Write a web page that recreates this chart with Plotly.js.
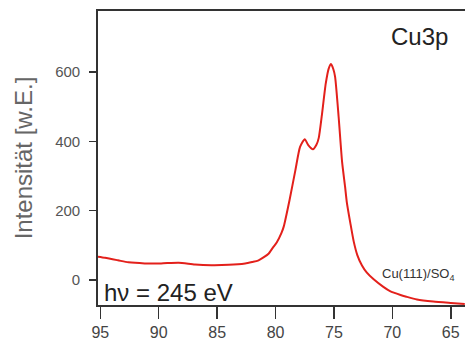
<!DOCTYPE html>
<html>
<head>
<meta charset="utf-8">
<script src="https://cdn.plot.ly/plotly-3.0.1.min.js"></script>
<style>html,body{margin:0;padding:0;background:#fff;}#chart{width:465px;height:343px;}</style>
</head>
<body>
<div id="chart"></div>
<script>
// Binding energy (eV) and intensity (arb. units)
const energy = [95.2, 94.6, 93.5, 92.6, 91.2, 89.8, 88.3, 86.9, 85.5, 84.0, 82.6, 82.0, 81.5, 81.0, 80.6, 80.2, 79.9, 79.5, 79.3, 78.8, 78.3, 77.9, 77.5, 77.2, 76.8, 76.5, 76.3, 76.05, 75.7, 75.45, 75.25, 75.05, 74.9, 74.6, 74.3, 74.05, 73.9, 73.6, 73.3, 73.0, 72.6, 72.2, 71.6, 70.8, 70.2, 69.3, 68.8, 67.9, 66.5, 65.0, 63.8];
const intensity = [67, 64, 57, 51, 48, 48, 50, 45, 43, 44, 48, 52, 56, 66, 76, 95, 108, 135, 154, 231, 317, 384, 406, 389, 377, 390, 410, 471, 567, 610, 623, 608, 586, 471, 340, 270, 225, 165, 110, 72, 42, 22, 2, -19, -32, -43, -48, -56, -62, -66, -69];
const xTicks = [95, 90, 85, 80, 75, 70, 65];
const yTicks = [0, 200, 400, 600];

const trace = {
  x: energy, y: intensity, type: 'scatter', mode: 'lines',
  line: {color: '#e3201b', width: 2, shape: 'spline', smoothing: 0.6},
  hoverinfo: 'skip'
};

const layout = {
  width: 465, height: 343,
  margin: {l: 98, r: 0, t: 11, b: 38, pad: 0},
  paper_bgcolor: '#ffffff', plot_bgcolor: '#ffffff',
  showlegend: false,
  font: {family: 'Liberation Sans, Arial, sans-serif', color: '#444'},
  xaxis: {
    range: [95.2, 63.78], tickvals: xTicks, ticktext: xTicks.map(String),
    ticks: 'outside', ticklen: 12, tickwidth: 1.5, tickcolor: '#333',
    showline: true, linecolor: '#333', linewidth: 1.8, mirror: true,
    showgrid: false, zeroline: false,
    tickfont: {size: 16, color: '#444'}
  },
  yaxis: {
    range: [-72, 776], tickvals: yTicks, ticktext: yTicks.map(String),
    ticks: 'outside', ticklen: 7, tickwidth: 1.5, tickcolor: '#333',
    showline: true, linecolor: '#333', linewidth: 1.8, mirror: false,
    showgrid: false, zeroline: false,
    tickfont: {size: 15, color: '#555'},
    ticklabelstandoff: 6,
    title: {text: 'Intensität [w.E.]', standoff: 16, font: {size: 24, color: '#666'}}
  },
  annotations: [
    {text: 'Cu3p', xref: 'paper', yref: 'paper', x: 0.876, y: 0.912, xanchor: 'center', yanchor: 'middle', showarrow: false, font: {size: 24, color: '#222'}},
    {text: 'hν = 245 eV', xref: 'paper', yref: 'paper', x: 0.012, y: 0.044, xanchor: 'left', yanchor: 'middle', showarrow: false, font: {size: 24, color: '#222'}},
    {text: 'Cu(111)/SO<sub>4</sub>', xref: 'paper', yref: 'paper', x: 0.768, y: 0.105, xanchor: 'left', yanchor: 'middle', showarrow: false, font: {size: 13, color: '#333'}}
  ]
};

Plotly.newPlot('chart', [trace], layout, {displayModeBar: false, staticPlot: true});
</script>
</body>
</html>
